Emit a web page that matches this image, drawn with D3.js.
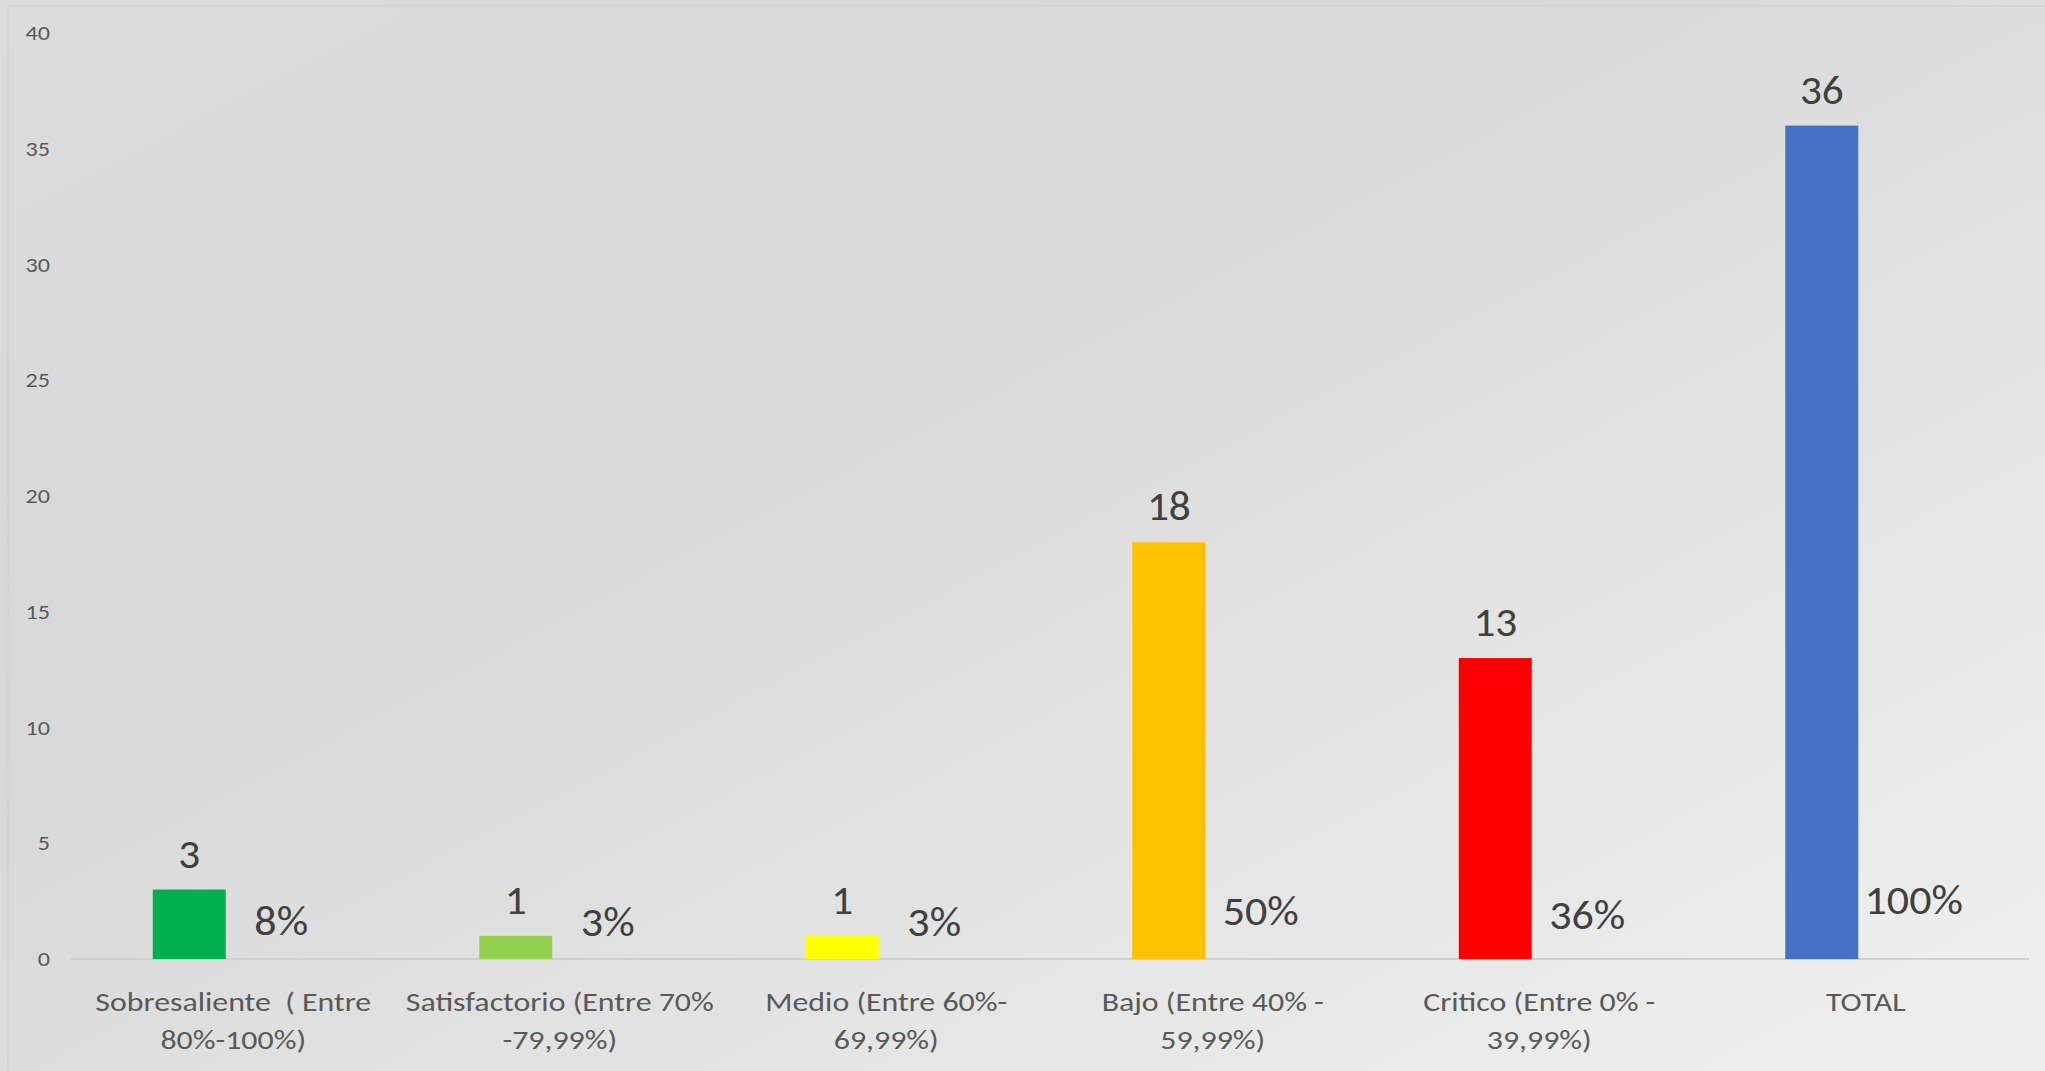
<!DOCTYPE html>
<html>
<head>
<meta charset="utf-8">
<script src="https://cdn.jsdelivr.net/npm/d3@7"></script>
<style>
  html, body { margin: 0; padding: 0; overflow: hidden; }
  svg { display: block; font-family: Carlito, Calibri, Lato, sans-serif; }
</style>
</head>
<body>
<svg id="chart" width="2045" height="1071"></svg>
<script>
// data
const categories = [
  ["Sobresaliente  ( Entre", "80%-100%)"],
  ["Satisfactorio (Entre 70%", "-79,99%)"],
  ["Medio (Entre 60%-", "69,99%)"],
  ["Bajo (Entre 40% -", "59,99%)"],
  ["Critico (Entre 0% -", "39,99%)"],
  ["TOTAL"]
];
const counts = [3, 1, 1, 18, 13, 36];
const percents = [0.08, 0.03, 0.03, 0.50, 0.36, 1.00];
const barColors = ["#00b050", "#92d050", "#ffff00", "#ffc000", "#ff0000", "#4472c4"];
const yTicks = [0, 5, 10, 15, 20, 25, 30, 35, 40];

let chart = d3.select("#chart");
let W = 2045, H = 1071;

// background gradient
let defs = chart.append("defs");
let grad = defs.append("linearGradient")
    .attr("id", "bg")
    .attr("x1", "0%").attr("y1", "0%")
    .attr("x2", "100%").attr("y2", "100%");
grad.append("stop").attr("offset", "0%").attr("stop-color", "#dcdcdc");
grad.append("stop").attr("offset", "35%").attr("stop-color", "#d8d8d8");
grad.append("stop").attr("offset", "100%").attr("stop-color", "#f0f0f0");

chart.append("rect")
    .attr("width", W).attr("height", H)
    .attr("fill", "url(#bg)");

// faint chart-area edge, top and left only
chart.append("path")
    .attr("d", "M8," + H + "V6H" + W)
    .attr("fill", "none")
    .attr("stroke", "#d2d2d2")
    .attr("stroke-width", 1.5);

let idx = d3.range(categories.length);

let x0 = d3.scaleBand()
    .domain(idx)
    .range([70, 2029])
    .paddingInner(0.507)
    .paddingOuter(0.2535);

let x1 = d3.scaleBand()
    .domain(["count", "pct"])
    .range([0, x0.bandwidth()])
    .paddingInner(0.17);

let yScale = d3.scaleLinear()
    .domain([0, 40])
    .range([959, 33]);

// the reference font runs wider than the installed ones, so stretch text a little
function stretched(sel, x, y, sx) {
    return sel.append("g")
        .attr("transform", "translate(" + x + "," + y + ") scale(" + sx + ",1)")
        .append("text");
}

// y axis labels (axis drawn by d3, then texts widened)
let yAxis = chart.append("g")
    .attr("transform", "translate(50,0)")
    .call(d3.axisLeft(yScale).tickValues(yTicks).tickSize(0).tickPadding(0));
yAxis.select(".domain").remove();
yAxis.selectAll("text")
    .attr("font-family", "Carlito, Calibri, Lato, sans-serif")
    .attr("font-size", "21px")
    .attr("fill", "#595959")
    .attr("transform", "scale(1.15,1)");

// baseline
chart.append("line")
    .attr("x1", 70).attr("x2", 2029)
    .attr("y1", yScale(0)).attr("y2", yScale(0))
    .attr("stroke", "#cfcfcf")
    .attr("stroke-width", 2);

// count bars
chart.selectAll("rect.bar")
    .data(idx).enter()
        .append("rect")
            .attr("class", "bar")
            .attr("x", function(i) { return x0(i) + x1("count"); })
            .attr("y", function(i) { return yScale(counts[i]); })
            .attr("width", x1.bandwidth())
            .attr("height", function(i) { return yScale(0) - yScale(counts[i]); })
            .attr("fill", function(i) { return barColors[i]; });

// count labels
idx.forEach(function(i) {
    stretched(chart, x0(i) + x1("count") + x1.bandwidth() / 2, yScale(counts[i]) - 22, 1.08)
        .attr("text-anchor", "middle")
        .attr("font-size", "40px")
        .attr("fill", "#404040")
        .text(counts[i]);
});

// percent labels (second series has no visible bar)
let fmt = d3.format(".0%");
idx.forEach(function(i) {
    stretched(chart, x0(i) + x1("pct") + x1.bandwidth() / 2 + 4, yScale(percents[i]) - 22, 1.1)
        .attr("text-anchor", "middle")
        .attr("font-size", "40px")
        .attr("fill", "#404040")
        .text(fmt(percents[i]));
});

// category labels
idx.forEach(function(i) {
    let t = stretched(chart, x0(i) + x0.bandwidth() / 2, 1011, 1.18)
        .attr("text-anchor", "middle")
        .attr("font-size", "27px")
        .attr("fill", "#595959")
        .style("white-space", "pre");
    categories[i].forEach(function(line, k) {
        t.append("tspan")
            .attr("x", 0)
            .attr("y", k * 38)
            .text(line);
    });
});
</script>
</body>
</html>
